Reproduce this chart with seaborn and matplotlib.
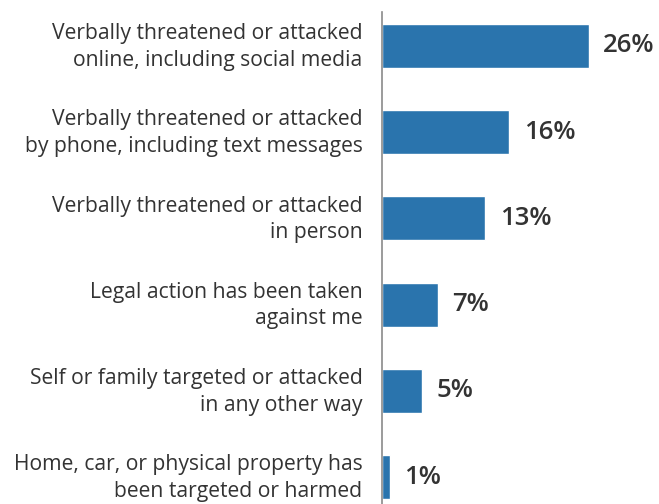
import matplotlib
matplotlib.use("Agg")
import matplotlib.pyplot as plt
import matplotlib.transforms as mtransforms
import seaborn as sns
import pandas as pd

categories = [
    "Verbally threatened or attacked\nonline, including social media",
    "Verbally threatened or attacked\nby phone, including text messages",
    "Verbally threatened or attacked\nin person",
    "Legal action has been taken\nagainst me",
    "Self or family targeted or attacked\nin any other way",
    "Home, car, or physical property has\nbeen targeted or harmed",
]
percentages = [26, 16, 13, 7, 5, 1]

df = pd.DataFrame({"category": categories, "pct": percentages})

sns.set_theme(style="white")
plt.rcParams["font.family"] = ["Open Sans", "DejaVu Sans"]

bar_color = "#2a74ad"
text_color = "#333333"

fig = plt.figure(figsize=(6.59, 5.04), dpi=100)
ax = fig.add_axes([382 / 659, 0.0, 1 - 382 / 659, 1 - 12 / 504])

sns.barplot(data=df, x="pct", y="category", orient="h", color=bar_color,
            width=0.51, saturation=1, ax=ax)

ax.set_xlim(0, 34.8)
ax.set_ylim(5.313, -0.394)

for i, v in enumerate(percentages):
    ax.text(v + 1.8, i, f"{v}%", va="center", ha="left", fontsize=18.5,
            fontweight="semibold", color=text_color)

ax.set_xlabel("")
ax.set_ylabel("")
ax.set_xticks([])
ax.tick_params(axis="y", length=0, pad=14, labelsize=15.2, labelcolor=text_color)
nudge = mtransforms.ScaledTranslation(0, -1 / 100, fig.dpi_scale_trans)
for lbl in ax.get_yticklabels():
    lbl.set_horizontalalignment("right")
    lbl.set_verticalalignment("center")
    lbl.set_linespacing(1.345)
    lbl.set_transform(lbl.get_transform() + nudge)

for s in ["top", "right", "bottom"]:
    ax.spines[s].set_visible(False)
ax.spines["left"].set_color("#8a8a8a")
ax.spines["left"].set_linewidth(1.2)

fig.savefig("out.png", dpi=100)
